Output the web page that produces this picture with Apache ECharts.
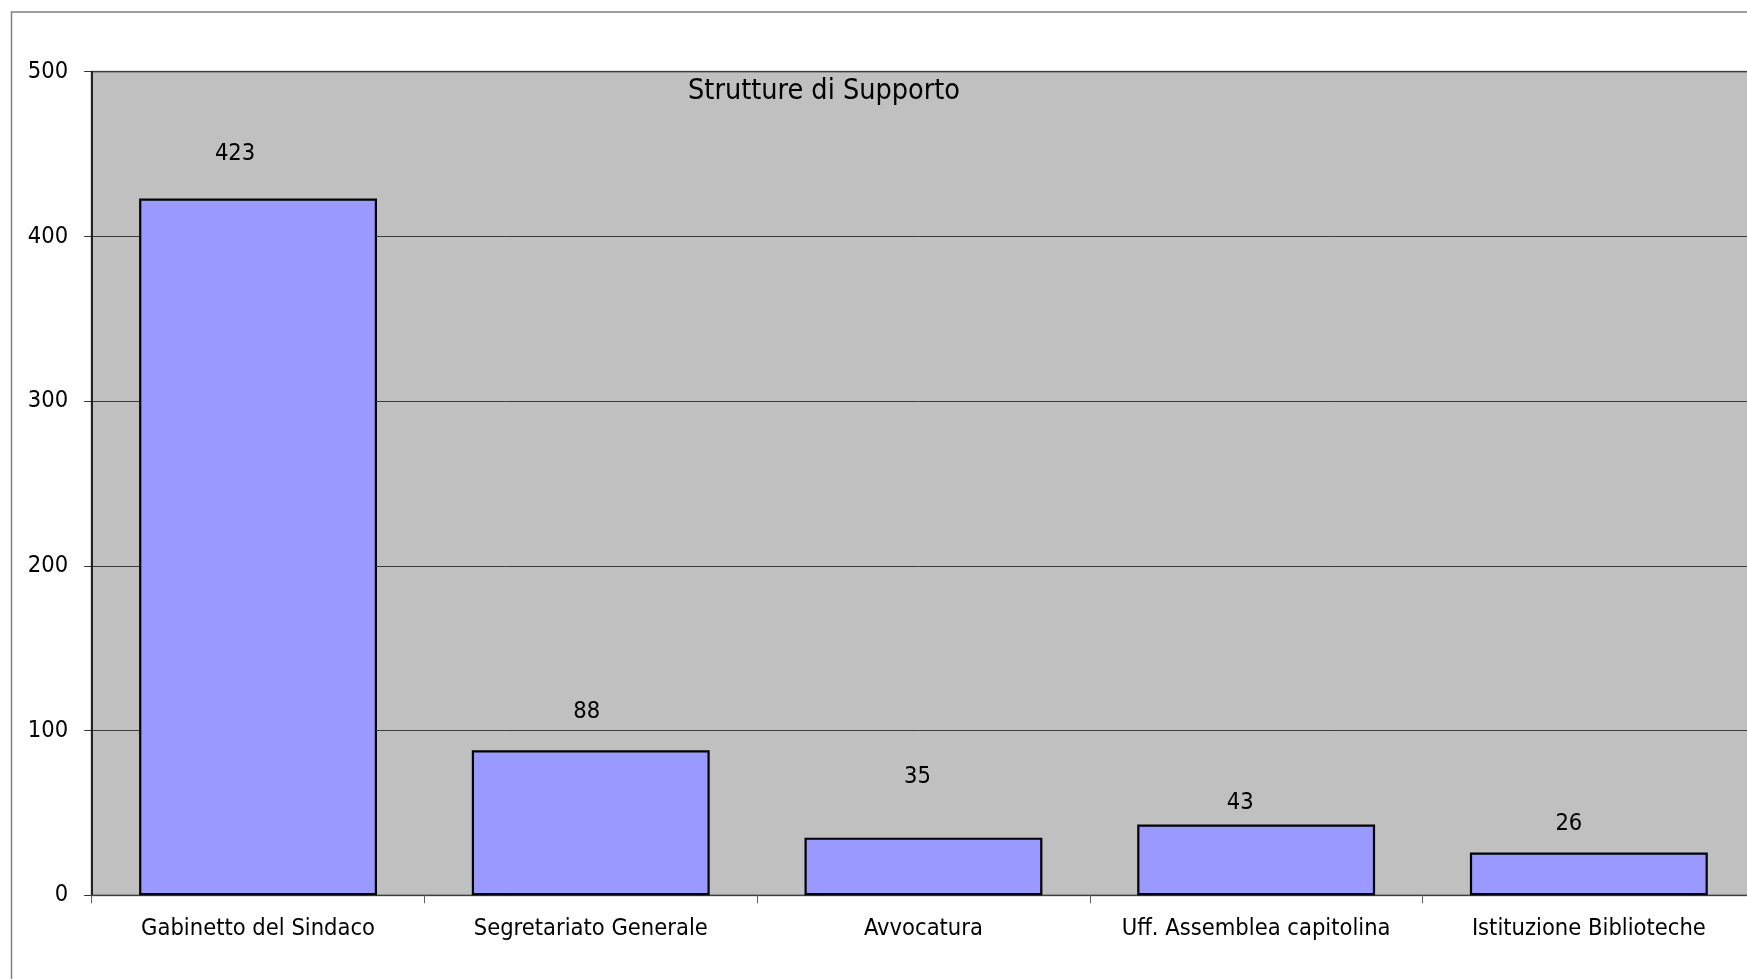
<!DOCTYPE html>
<html>
<head>
<meta charset="utf-8">
<title>Strutture di Supporto</title>
<script src="https://cdn.jsdelivr.net/npm/echarts@6/dist/echarts.min.js"></script>
<style>
  html, body { margin: 0; padding: 0; background: #ffffff; }
  #chart { width: 1747px; height: 979px; }
</style>
</head>
<body>
<div id="chart"></div>
<script>
// Data
const chartTitle = 'Strutture di Supporto';
const categories = [
  'Gabinetto del Sindaco',
  'Segretariato Generale',
  'Avvocatura',
  'Uff. Assemblea capitolina',
  'Istituzione Biblioteche'
];
const values = [423, 88, 35, 43, 26];
const yMin = 0;
const yMax = 500;
const yStep = 100;

// Layout: hand-placed nudges of the value labels (dx, dy in px, from the top of each bar)
const labelNudge = [[-23, -33], [-4, -26], [-6, -49], [-16, -10], [-20, -17]];

const FONT = "'DejaVu Sans Condensed', 'DejaVu Sans', sans-serif";
const LABEL_SIZE = 23.5;

const chart = echarts.init(document.getElementById('chart'), null, { renderer: 'canvas' });

const option = {
  animation: false,
  backgroundColor: '#ffffff',
  grid: {
    // the plot area runs a little past the right edge of the page
    left: 91.7,
    top: 71.7,
    width: 1663.5,
    height: 823.6,
    outerBoundsMode: 'none',
    show: true,
    backgroundColor: '#c0c0c0',
    borderColor: '#808080',
    borderWidth: 2,
    containLabel: false
  },
  graphic: [
    {
      // outer chart frame
      type: 'rect',
      z: 1,
      shape: { x: 11.5, y: 12, width: 1800, height: 1000 },
      style: { fill: 'none', stroke: '#808080', lineWidth: 1.5 },
      silent: true
    },
    {
      type: 'text',
      z: 100,
      x: 824,
      y: 92,
      style: {
        text: chartTitle,
        font: '28.5px ' + FONT,
        fill: '#000000',
        textAlign: 'center',
        textVerticalAlign: 'middle'
      },
      silent: true
    }
  ],
  xAxis: {
    type: 'category',
    data: categories,
    axisLine: { show: true, lineStyle: { color: '#404040', width: 1 } },
    axisTick: { show: true, length: 8, lineStyle: { color: '#606060', width: 1 } },
    axisLabel: {
      margin: 22,
      color: '#000000',
      fontFamily: FONT,
      fontSize: LABEL_SIZE,
      lineHeight: 24,
      interval: 0
    },
    splitLine: { show: false }
  },
  yAxis: {
    type: 'value',
    min: yMin,
    max: yMax,
    interval: yStep,
    axisLine: { show: true, lineStyle: { color: '#000000', width: 1.5 } },
    axisTick: { show: true, length: 7.5, lineStyle: { color: '#303030', width: 1 } },
    axisLabel: {
      margin: 23.5,
      color: '#000000',
      fontFamily: FONT,
      fontSize: LABEL_SIZE,
      lineHeight: 24,
      padding: [3, 0, 0, 0]
    },
    splitLine: { show: true, lineStyle: { color: '#3c3c3c', width: 1 } }
  },
  series: [
    {
      type: 'bar',
      barWidth: '71.5%',
      data: values.map((v, i) => ({
        value: v,
        label: { offset: labelNudge[i] }
      })),
      itemStyle: {
        color: '#9999ff',
        borderColor: '#000000',
        borderWidth: 2.2
      },
      label: {
        show: true,
        position: 'top',
        distance: 0,
        color: '#000000',
        fontFamily: FONT,
        fontSize: LABEL_SIZE,
        lineHeight: 24
      },
      z: 3
    }
  ]
};

chart.setOption(option);
</script>
</body>
</html>
